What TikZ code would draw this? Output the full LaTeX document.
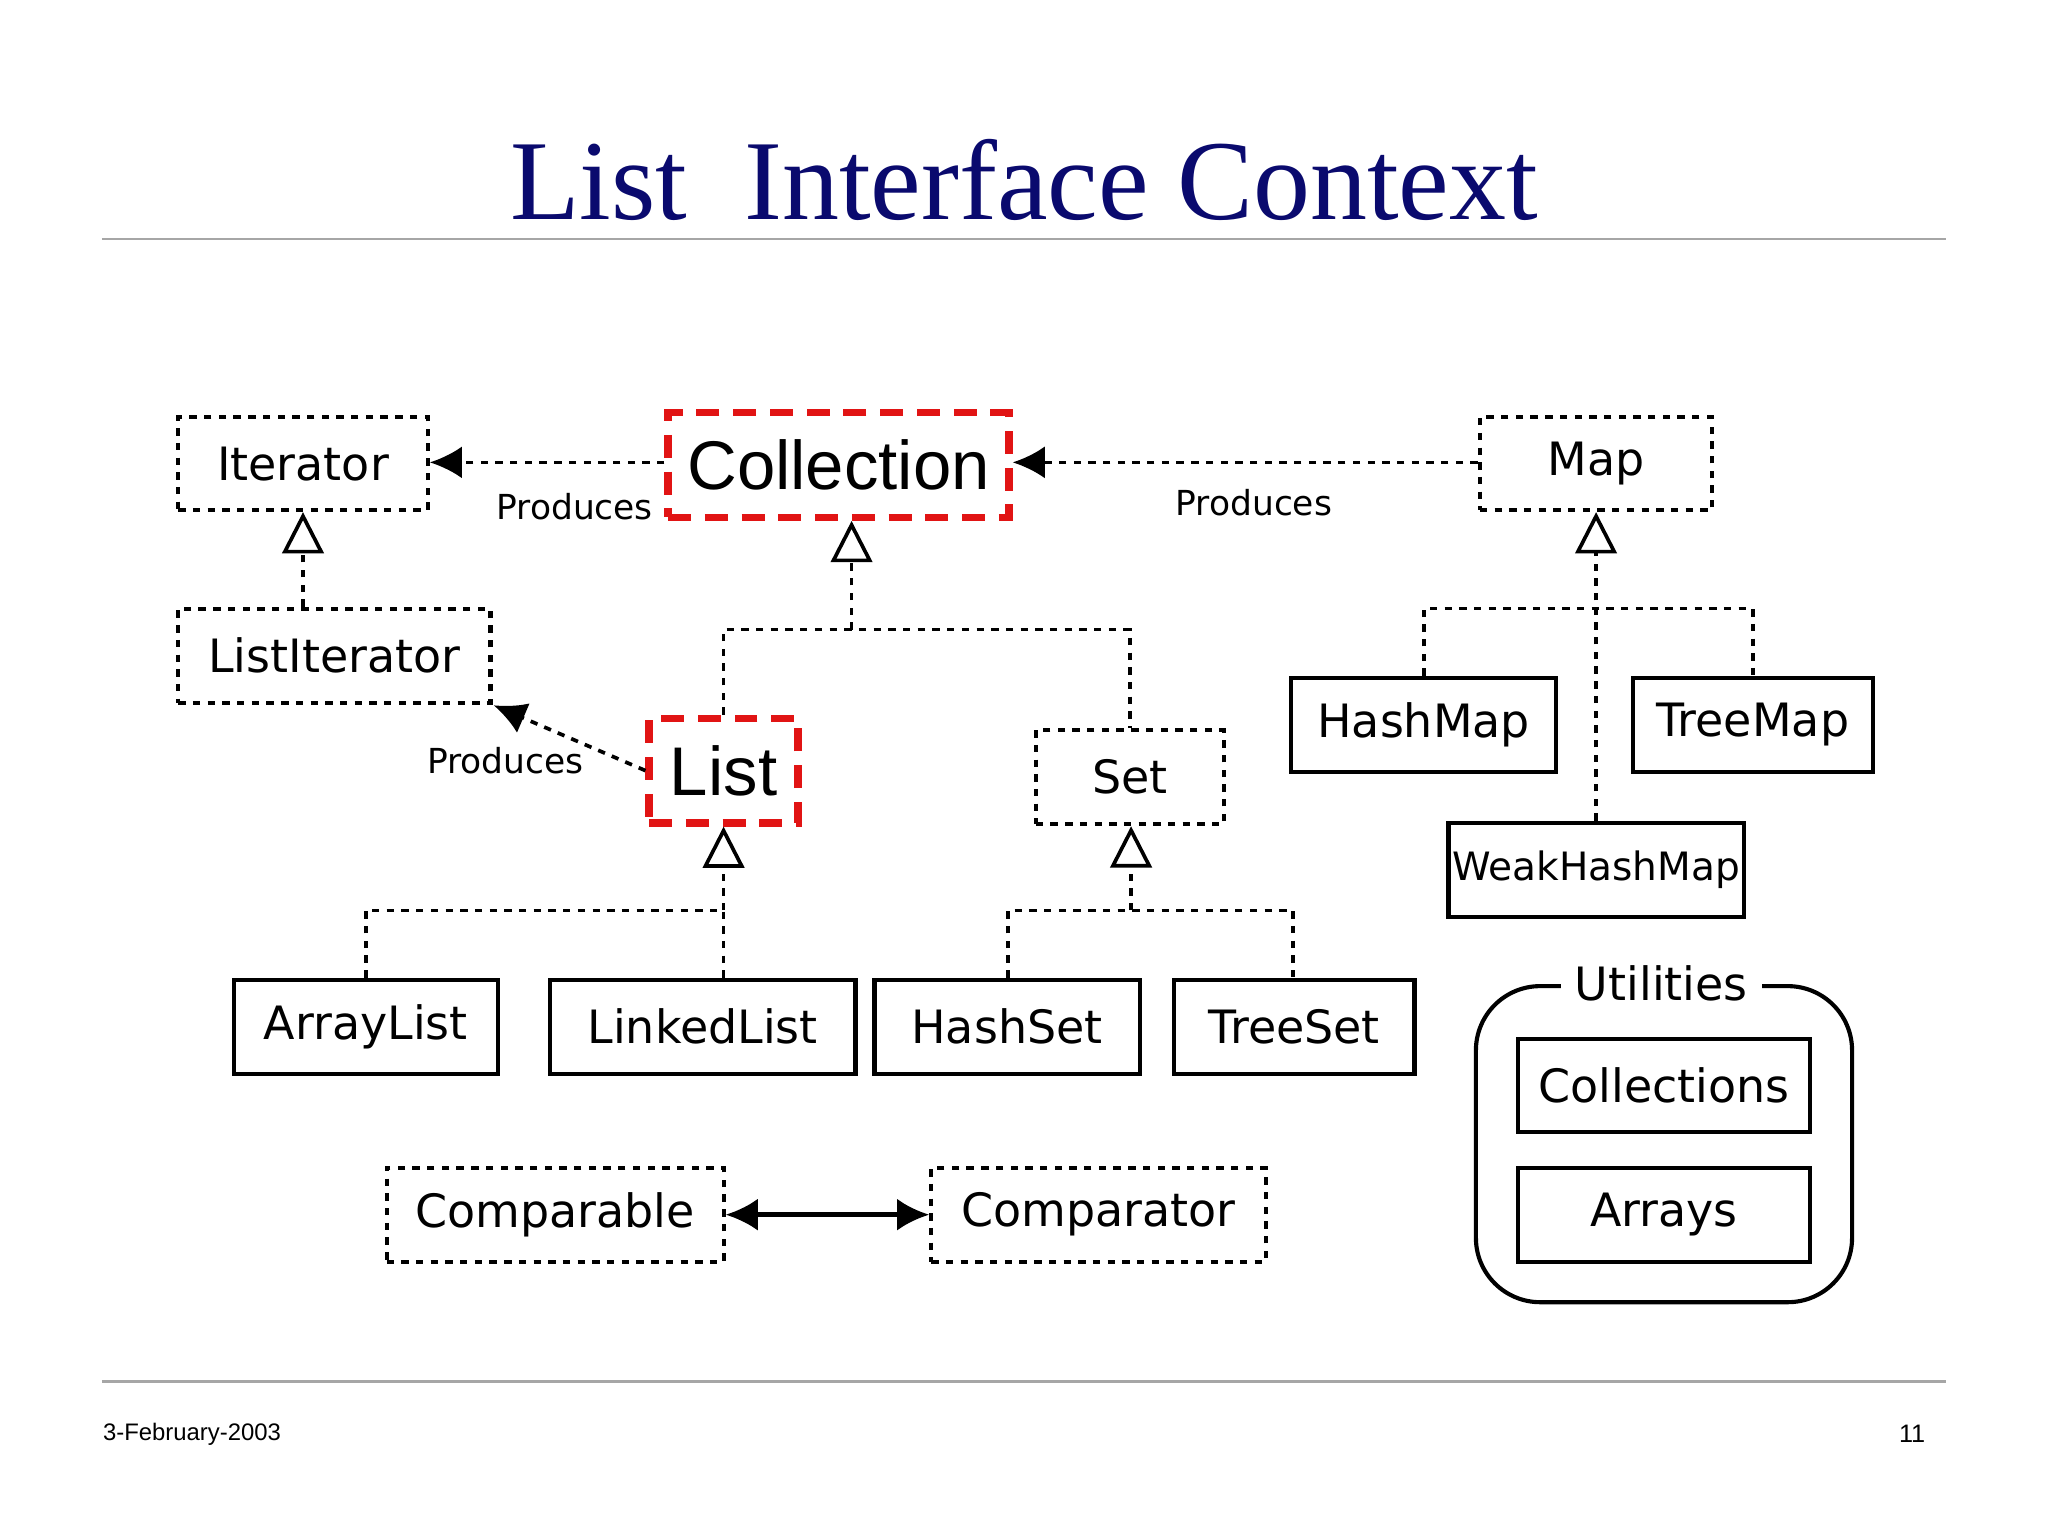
\documentclass[tikz,border=0pt]{standalone}
\usepackage{fontspec}
\setmainfont{Liberation Serif}
\newfontfamily\boxf{DejaVu Sans}
\newfontfamily\arialf{Liberation Sans}
\usetikzlibrary{arrows.meta}
\definecolor{navy}{RGB}{10,10,110}
\definecolor{redd}{RGB}{225,20,20}
\begin{document}
\begin{tikzpicture}[x=0.01cm,y=-0.01cm,
 sz/.style 2 args={minimum width=#1*0.01cm,minimum height=#2*0.01cm},
 bx/.style={draw,line width=0.9pt,inner sep=0pt,font=\boxf\fontsize{10}{12}\selectfont},
 dbx/.style={bx,dash pattern=on 1.6pt off 1.6pt},
 rbx/.style={draw=redd,line width=1.6pt,dash pattern=on 5pt off 3pt,inner sep=0pt,font=\arialf\fontsize{15}{18}\selectfont},
 dl/.style={line width=0.8pt,dash pattern=on 1.6pt off 1.6pt},
 inh/.style={dl,-{Triangle[open,width=9pt,length=9pt,line width=0.8pt,sep=0pt]}},
 prod/.style={dl,-{Latex[width=7pt,length=7pt]}},
 lbl/.style={font=\boxf\fontsize{7.5}{9}\selectfont}]
\useasboundingbox (0,0) rectangle (1568,1176);
\node[font=\fontsize{24.8}{30}\selectfont,text=navy] (title) at (784,138) {List\ \ Interface Context};
\draw[gray!70,line width=0.6pt] (78,183) coordinate (l1) -- (1490,183) coordinate (l2);
\draw[gray!70,line width=0.6pt] (78,1058) coordinate (l3) -- (1490,1058) coordinate (l4);
\node[font=\arialf\fontsize{5.2}{6}\selectfont] (date) at (147,1098) {3-February-2003};
\node[font=\arialf\fontsize{5.5}{6}\selectfont] (pg) at (1464,1098) {11};

\node[dbx,sz={191}{71}] (it) at (232,355) {Iterator};
\node[rbx,sz={261}{80}] (coll) at (642,356) {Collection};
\node[dbx,sz={178}{71}] (map) at (1222,355) {Map};
\node[dbx,sz={239}{72}] (lit) at (256,502) {ListIterator};
\node[rbx,sz={114}{80}] (list) at (554,590) {List};
\node[dbx,sz={144}{72}] (set) at (865,595) {Set};
\node[bx,sz={203}{72}] (hm) at (1090,555) {HashMap};
\node[bx,sz={184}{72}] (tm) at (1342,555) {TreeMap};
\node[bx,sz={226}{72},font=\boxf\fontsize{8.5}{10}\selectfont] (whm) at (1222,666) {WeakHashMap};
\node[bx,sz={202}{72}] (al) at (280,786) {ArrayList};
\node[bx,sz={234}{72}] (ll) at (538,786) {LinkedList};
\node[bx,sz={203}{72}] (hs) at (771,786) {HashSet};
\node[bx,sz={184}{72}] (ts) at (991,786) {TreeSet};
\node[dbx,sz={258}{72}] (cmpb) at (425,930) {Comparable};
\node[dbx,sz={256}{72}] (cmpr) at (841,930) {Comparator};
\node[draw,line width=0.9pt,rounded corners=14pt,sz={288}{242}] (util) at (1274,876) {};
\node[fill=white,inner sep=3pt,font=\boxf\fontsize{10}{12}\selectfont] (utl) at (1272,753) {Utilities};
\node[bx,sz={224}{71}] (cols) at (1274,831) {Collections};
\node[bx,sz={224}{72}] (arr) at (1274,930) {Arrays};

% produces
\draw[prod] (coll.west |- 0,354) -- (it.east |- 0,354);
\node[lbl] (p1) at (440,388) {Produces};
\draw[prod] (map.west |- 0,354) -- (coll.east |- 0,354);
\node[lbl] (p2) at (960,385) {Produces};
\draw[prod] (list.west) -- (378,540);
\node[lbl] (p3) at (387,582) {Produces};
% inheritance
\draw[inh] (lit.north -| 232,0) -- (it.south -| 232,0);
\draw[dl] (list.north) -- (554,482) -- (865,482) -- (set.north);
\draw[inh] (652,482) -- (coll.south -| 652,0);
\draw[inh] (whm.north) -- (map.south);
\draw[dl] (hm.north) -- (1090,466) -- (1342,466) -- (tm.north);
\draw[dl] (al.north) -- (280,697) -- (554,697) -- (ll.north -| 554,0);
\draw[inh] (554,697) -- (list.south);
\draw[dl] (hs.north -| 772,0) -- (772,697) -- (990,697) -- (ts.north -| 990,0);
\draw[inh] (866,697) -- (set.south -| 866,0);
\draw[line width=1pt,{Latex[width=7pt,length=7pt]}-{Latex[width=7pt,length=7pt]}] (cmpb.east) -- (cmpr.west);
\end{tikzpicture}
\end{document}
